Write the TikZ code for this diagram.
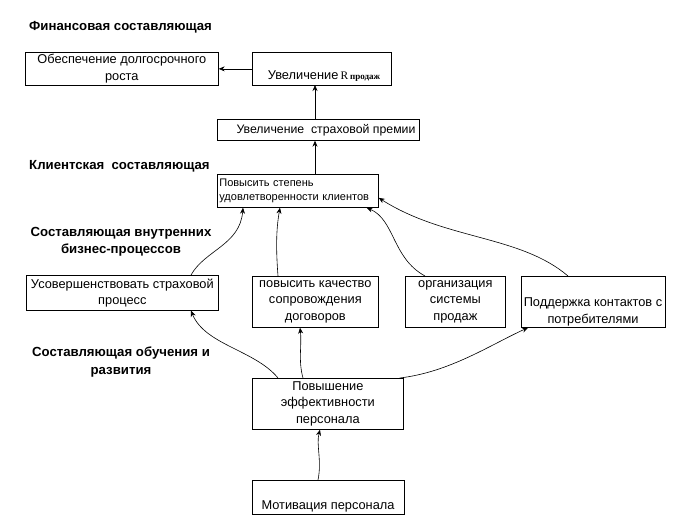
\documentclass[tikz,border=0pt]{standalone}
\usepackage{fontspec}
\setmainfont{Liberation Sans}
\newfontfamily\serifR{Liberation Serif}
\usetikzlibrary{arrows.meta,calc}
\begin{document}
\begin{tikzpicture}[x=1pt,y=-1pt,
  box/.style={draw, line width=0.7pt, inner sep=1pt, anchor=north west, align=center, font=\fontsize{12.8}{16.5}\selectfont},
  txt/.style={inner sep=0pt, align=center, font=\fontsize{12.8}{16.5}\selectfont},
  head/.style={inner sep=0pt, align=center, font=\bfseries\fontsize{13.2}{17.5}\selectfont},
  arr/.style={line width=0.6pt, -{Stealth[length=6pt,width=5pt]}}
]
\path[use as bounding box, fill=white] (0,0) rectangle (677,528);

% headings
\node[head, anchor=west] (h1) at (29,27) {Финансовая составляющая};
\node[head, anchor=west] (h2) at (29,166) {Клиентская\ \ составляющая};
\node[head] (h3) at (121,242) {Составляющая внутренних\\бизнес-процессов};
\node[head] (h4) at (121,362) {Составляющая обучения и\\развития};

% boxes
\node[box, minimum width=193, minimum height=33] (fin1) at (25,52) {Обеспечение долгосрочного\\роста};
\node[box, minimum width=139, minimum height=33] (fin2) at (252,52) {};
\node[txt] (fin2t) at (324,76) {Увеличение\,{\serifR\fontsize{11.5}{13}\selectfont R\,{\fontsize{9}{11}\selectfont\bfseries продаж}}};
\node[box, minimum width=202, minimum height=21] (prem) at (217,119) {};
\node[txt, font=\fontsize{12.3}{15}\selectfont] (premt) at (326,130) {Увеличение\ \ страховой премии};
\node[box, minimum width=161, minimum height=33, text width=157, align=left, font=\fontsize{11}{14.5}\selectfont] (cli) at (217,174) {Повысить степень\\удовлетворенности клиентов};

\node[box, minimum width=192, minimum height=35] (proc) at (26,275) {Усовершенствовать страховой\\процесс};
\node[box, minimum width=126, minimum height=51] (qual) at (252,276) {повысить качество\\сопровождения\\договоров};
\node[box, minimum width=100, minimum height=51] (org) at (405,276) {организация\\системы\\продаж};
\node[box, minimum width=144, minimum height=51] (cont) at (521,276) {};
\node[txt] (contt) at (593,312) {Поддержка контактов с\\потребителями};

\node[box, minimum width=151, minimum height=51] (pers) at (252,378) {Повышение\\эффективности\\персонала};
\node[box, minimum width=152, minimum height=34] (mot) at (252,480) {};
\node[txt] (mott) at (328,506) {Мотивация персонала};

% straight arrows
\draw[arr] (fin2.west) -- (fin1.east);
\draw[arr] ($(prem.north west)+(98,0)$) -- ($(prem.north west)+(98,-34)$);
\draw[arr] ($(cli.north west)+(98,0)$) -- ($(prem.south west)+(98,0)$);

% curved arrows to client box
\draw[arr] ($(proc.north west)+(165,0)$) .. controls (205,250) and (240,245) .. ($(cli.south west)+(26,0)$);
\draw[arr] ($(qual.north west)+(26,0)$) .. controls (276,250) and (276,230) .. ($(cli.south west)+(63,0)$);
\draw[arr] ($(org.north west)+(20,0)$) .. controls (392,258) and (395,220) .. ($(cli.south east)+(-12,0)$);
\draw[arr] ($(cont.north west)+(47,0)$) .. controls (520,235) and (445,240) .. ($(cli.east)+(0,7)$);

% curved arrows from personnel box
\draw[arr] ($(pers.north west)+(26,0)$) .. controls (255,350) and (205,345) .. ($(proc.south west)+(165,0)$);
\draw[arr] ($(pers.north west)+(51,0)$) .. controls (298,360) and (302,345) .. ($(qual.south west)+(48,0)$);
\draw[arr] ($(pers.north east)+(-4,0)$) .. controls (450,372) and (490,345) .. ($(cont.south west)+(7,0)$);
\draw[arr] ($(mot.north west)+(66,0)$) .. controls (322,460) and (316,445) .. ($(pers.south west)+(68,0)$);
\end{tikzpicture}
\end{document}
